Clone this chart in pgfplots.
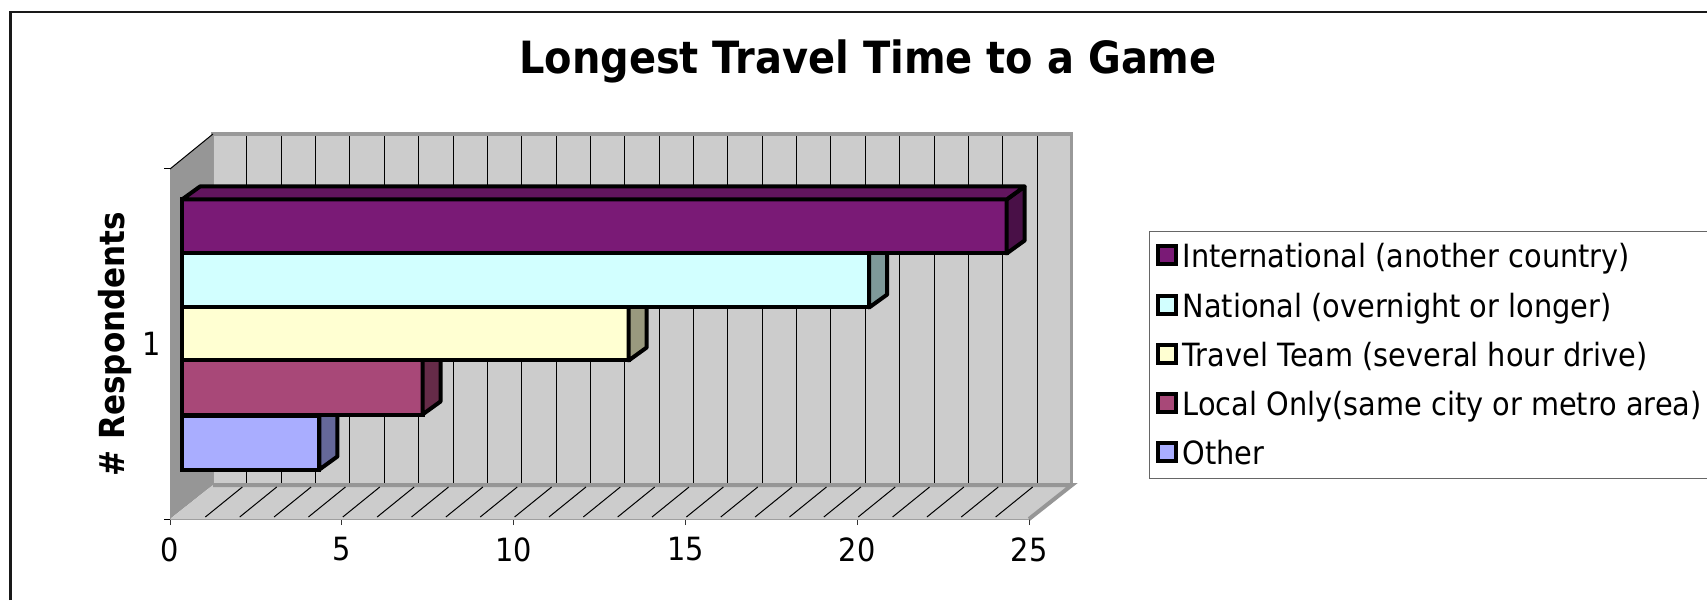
\documentclass[border=0pt]{standalone}
\usepackage{fontspec}
\setmainfont[FakeStretch=0.9]{DejaVu Sans}
\usepackage{pgfplots}
\pgfplotsset{compat=1.18}

% all lengths below are reference pixels, 1pt = 1px
\definecolor{wall}{HTML}{CCCCCC}
\definecolor{sidewall}{HTML}{969696}
\definecolor{wallline}{HTML}{999999}
\definecolor{cIntl}{HTML}{7A1A76}
\definecolor{cNat}{HTML}{D2FFFF}
\definecolor{cTeam}{HTML}{FFFFD2}
\definecolor{cLocal}{HTML}{A84878}
\definecolor{cOther}{HTML}{A9ADFF}
\newcommand{\txt}{\fontsize{32}{38}\selectfont}

% right end face of a bar: value, vertical bar shift, colour
\newcommand{\sideface}[3]{%
  \draw[line width=4pt,fill=#3,line join=round] (axis cs:#1,1) ++(0pt,#2pt+27pt) -- ++(18pt,13pt) -- ++(0pt,-54pt) -- ++(-18pt,-13pt) -- cycle;
}

\begin{document}
\begin{tikzpicture}[x=1pt,y=1pt]
\path[use as bounding box] (0,0) rectangle (1707,600);
\draw[line width=2.5pt,color=black!90] (10.5,0) -- (10.5,588) -- (1707,588);

% back wall with its grid
\begin{axis}[
  at={(212.5pt,115pt)}, anchor=south west, scale only axis,
  width=859pt, height=351pt,
  xmin=0, xmax=25, ymin=0, ymax=1,
  xtick distance=1, ytick=\empty, xticklabels={},
  xmajorgrids, major tick length=0pt,
  grid style={black,line width=1pt},
  axis line style={wallline,line width=3.5pt},
  axis background/.style={fill=wall},
]
\end{axis}

% side wall, floor and the visible axes
\begin{axis}[
  at={(170pt,81pt)}, anchor=south west, scale only axis,
  width=859pt, height=350pt,
  xmin=0, xmax=25, ymin=0.5, ymax=1.5,
  axis x line=bottom, axis y line=left,
  x axis line style={-,wallline,line width=2pt},
  y axis line style={-,black,line width=1pt},
  xtick={0,5,...,25}, ytick={1}, clip=false,
  tick align=outside, major tick length=6pt,
  xtick style={black!80,line width=1pt},
  ytick style={draw=none},
  extra y ticks={0.5,1.5}, extra y tick labels={},
  extra y tick style={ytick style={draw=black,line width=1pt}},
  /pgf/number format/assume math mode=true,
  tick label style={font=\txt},
  xticklabel style={yshift=-9pt},
  title={Longest Travel Time to a Game},
  title style={at={(axis description cs:0.8125,1.29)},anchor=center,font=\fontsize{44.4}{50}\selectfont\bfseries},
  ylabel={\# Respondents},
  ylabel style={at={(axis description cs:-0.064,0.5)},anchor=center,font=\fontsize{34.5}{40}\selectfont\bfseries},
]
\fill[sidewall] (axis cs:0,0.5) -- ++(43pt,34pt) -- ++(0pt,351pt) -- ++(-43pt,-35pt) -- cycle;
\fill[wall] (axis cs:0,0.5) -- ++(43pt,34pt) -- ++(859pt,0pt) -- ++(-43pt,-34pt) -- cycle;
\draw[sidewall,line width=4pt] (axis cs:0,0.5) ++(43pt,34pt) -- ++(859pt,0pt) -- ++(-43pt,-34pt);
\draw[black,line width=1pt] (axis cs:0,1.5) -- ++(43pt,35pt);
\pgfplotsinvokeforeach{1,...,24}{
  \draw[black,line width=1pt] (axis cs:#1,0.5) ++(1pt,2pt) -- ++(37pt,30pt);
}
\end{axis}

% the bars; their zero sits 12px in front of the wall's corner
\begin{axis}[
  at={(182pt,81pt)}, anchor=south west, scale only axis,
  width=859pt, height=350pt,
  xmin=0, xmax=25, ymin=0.5, ymax=1.5,
  hide axis, clip=false,
  xbar, bar width=54pt, reverse legend,
  legend image code/.code={\draw[#1] (0pt,-8pt) rectangle (18pt,10pt); \path[draw=none,fill=none] (0pt,0pt) rectangle (23pt,1pt);},
  legend style={at={(1.1257,0.8229)},anchor=north west,draw=black!60,line width=1.2pt,
    font=\txt,inner xsep=6pt,inner ysep=10pt,row sep=19.4pt,
    cells={anchor=west}},
]
\addplot[fill=cOther,draw=black,line width=4pt,bar shift=-98.5pt] coordinates {(4,1)};
\addlegendentry{Other}
\sideface{4}{-98.5}{cOther!60!black}
\addplot[fill=cLocal,draw=black,line width=4pt,bar shift=-43.5pt] coordinates {(7,1)};
\addlegendentry{Local Only(same city or metro area)\rule{30pt}{0pt}}
\sideface{7}{-43.5}{cLocal!60!black}
\addplot[fill=cTeam,draw=black,line width=4pt,bar shift=10.5pt] coordinates {(13,1)};
\addlegendentry{Travel Team (several hour drive)}
\sideface{13}{10.5}{cTeam!60!black}
\addplot[fill=cNat,draw=black,line width=4pt,bar shift=63.5pt] coordinates {(20,1)};
\addlegendentry{National (overnight or longer)}
\sideface{20}{63.5}{cNat!60!black}
\addplot[fill=cIntl,draw=black,line width=4pt,bar shift=117.5pt] coordinates {(24,1)};
\addlegendentry{International (another country)}
\sideface{24}{117.5}{cIntl!60!black}
% top face of the uppermost bar
\draw[line width=4pt,fill=cIntl!80!black,line join=round] (axis cs:0,1) ++(0pt,144.5pt) -- ++(18pt,13pt) -- ++(824.6pt,0pt) -- ++(-18pt,-13pt) -- cycle;
\end{axis}
\end{tikzpicture}
\end{document}
